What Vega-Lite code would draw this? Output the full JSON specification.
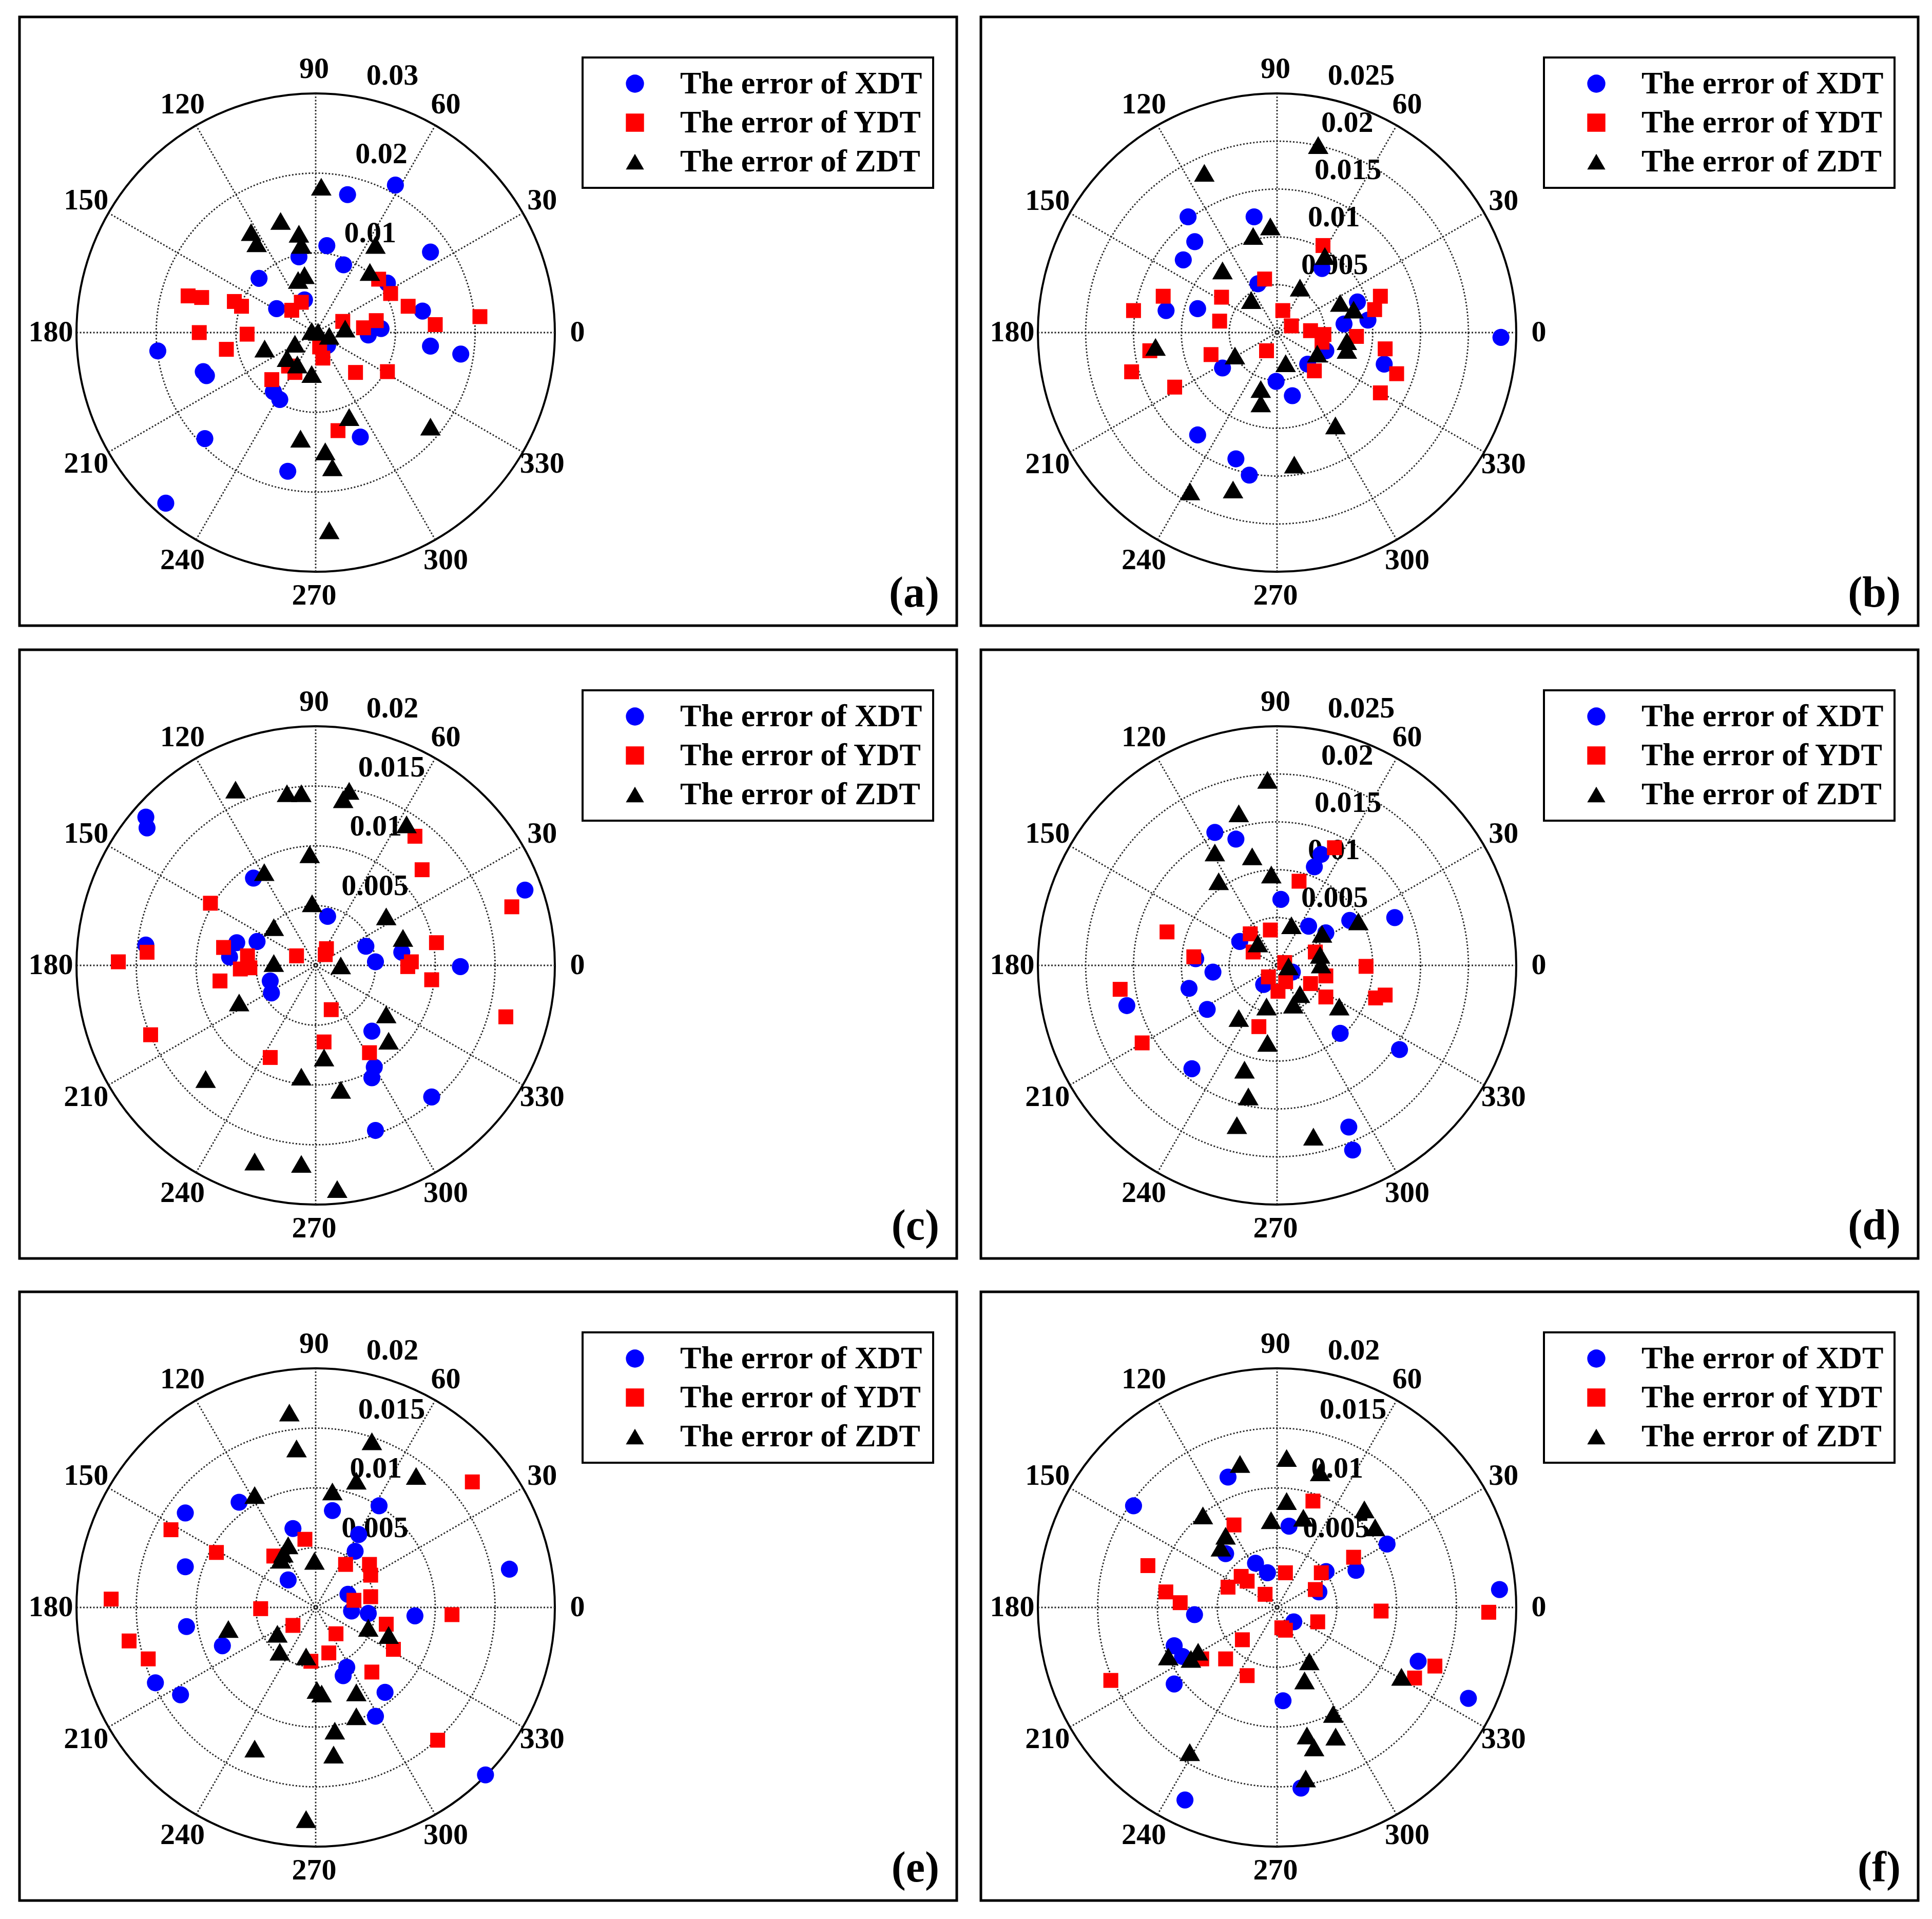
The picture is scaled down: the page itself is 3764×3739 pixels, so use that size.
{
"$schema":"https://vega.github.io/schema/vega-lite/v6.json",
"background":"white",
"padding":{"left":35,"top":30,"right":0,"bottom":0},
"datasets":{
"angles":[{"a":0,"t":"0"},{"a":30,"t":"30"},{"a":60,"t":"60"},{"a":90,"t":"90"},{"a":120,"t":"120"},{"a":150,"t":"150"},{"a":180,"t":"180"},{"a":210,"t":"210"},{"a":240,"t":"240"},{"a":270,"t":"270"},{"a":300,"t":"300"},{"a":330,"t":"330"}],
"pa":[
{"s":"XDT","x":0.0100,"y":0.0185},{"s":"XDT","x":0.0040,"y":0.0173},{"s":"XDT","x":0.0014,"y":0.0109},{"s":"XDT","x":0.0144,"y":0.0101},{"s":"XDT","x":0.0035,"y":0.0085},{"s":"XDT","x":-0.0021,"y":0.0095},{"s":"XDT","x":-0.0071,"y":0.0068},{"s":"XDT","x":0.0090,"y":0.0062},{"s":"XDT","x":-0.0014,"y":0.0041},{"s":"XDT","x":-0.0049,"y":0.0030},{"s":"XDT","x":0.0134,"y":0.0027},{"s":"XDT","x":0.0066,"y":-0.0003},{"s":"XDT","x":0.0082,"y":0.0005},{"s":"XDT","x":0.0144,"y":-0.0017},{"s":"XDT","x":0.0182,"y":-0.0027},{"s":"XDT","x":-0.0198,"y":-0.0023},{"s":"XDT","x":-0.0141,"y":-0.0049},{"s":"XDT","x":-0.0137,"y":-0.0054},{"s":"XDT","x":-0.0053,"y":-0.0074},{"s":"XDT","x":-0.0045,"y":-0.0084},{"s":"XDT","x":-0.0139,"y":-0.0133},{"s":"XDT","x":0.0056,"y":-0.0131},{"s":"XDT","x":-0.0035,"y":-0.0174},{"s":"XDT","x":-0.0188,"y":-0.0214},{"s":"XDT","x":0.0015,"y":-0.0016},
{"s":"YDT","x":-0.0160,"y":0.0046},{"s":"YDT","x":-0.0143,"y":0.0044},{"s":"YDT","x":-0.0102,"y":0.0039},{"s":"YDT","x":-0.0093,"y":0.0033},{"s":"YDT","x":-0.0030,"y":0.0028},{"s":"YDT","x":-0.0018,"y":0.0038},{"s":"YDT","x":0.0079,"y":0.0067},{"s":"YDT","x":0.0094,"y":0.0049},{"s":"YDT","x":0.0116,"y":0.0033},{"s":"YDT","x":0.0150,"y":0.0010},{"s":"YDT","x":0.0206,"y":0.0020},{"s":"YDT","x":0.0034,"y":0.0014},{"s":"YDT","x":0.0060,"y":0.0006},{"s":"YDT","x":0.0076,"y":0.0015},{"s":"YDT","x":-0.0146,"y":0.0000},{"s":"YDT","x":-0.0086,"y":-0.0002},{"s":"YDT","x":-0.0112,"y":-0.0021},{"s":"YDT","x":0.0005,"y":-0.0018},{"s":"YDT","x":0.0009,"y":-0.0032},{"s":"YDT","x":-0.0026,"y":-0.0050},{"s":"YDT","x":-0.0055,"y":-0.0059},{"s":"YDT","x":0.0050,"y":-0.0050},{"s":"YDT","x":0.0090,"y":-0.0049},{"s":"YDT","x":0.0028,"y":-0.0123},{"s":"YDT","x":-0.0034,"y":-0.0042},
{"s":"ZDT","x":0.0007,"y":0.0183},{"s":"ZDT","x":-0.0044,"y":0.0140},{"s":"ZDT","x":-0.0081,"y":0.0126},{"s":"ZDT","x":-0.0074,"y":0.0112},{"s":"ZDT","x":-0.0021,"y":0.0124},{"s":"ZDT","x":-0.0018,"y":0.0110},{"s":"ZDT","x":0.0075,"y":0.0110},{"s":"ZDT","x":0.0068,"y":0.0076},{"s":"ZDT","x":-0.0014,"y":0.0072},{"s":"ZDT","x":-0.0022,"y":0.0066},{"s":"ZDT","x":-0.0005,"y":0.0002},{"s":"ZDT","x":0.0003,"y":0.0001},{"s":"ZDT","x":0.0017,"y":-0.0004},{"s":"ZDT","x":0.0037,"y":0.0005},{"s":"ZDT","x":-0.0064,"y":-0.0020},{"s":"ZDT","x":-0.0026,"y":-0.0014},{"s":"ZDT","x":-0.0036,"y":-0.0032},{"s":"ZDT","x":-0.0023,"y":-0.0040},{"s":"ZDT","x":-0.0005,"y":-0.0052},{"s":"ZDT","x":0.0042,"y":-0.0106},{"s":"ZDT","x":-0.0019,"y":-0.0133},{"s":"ZDT","x":0.0012,"y":-0.0149},{"s":"ZDT","x":0.0021,"y":-0.0169},{"s":"ZDT","x":0.0144,"y":-0.0118},{"s":"ZDT","x":0.0017,"y":-0.0248}
],
"pb":[
{"s":"XDT","x":-0.0093,"y":0.0121},{"s":"XDT","x":-0.0086,"y":0.0095},{"s":"XDT","x":-0.0098,"y":0.0076},{"s":"XDT","x":-0.0024,"y":0.0121},{"s":"XDT","x":-0.0020,"y":0.0051},{"s":"XDT","x":0.0047,"y":0.0067},{"s":"XDT","x":-0.0116,"y":0.0023},{"s":"XDT","x":-0.0083,"y":0.0025},{"s":"XDT","x":0.0084,"y":0.0032},{"s":"XDT","x":0.0095,"y":0.0013},{"s":"XDT","x":0.0070,"y":0.0009},{"s":"XDT","x":0.0234,"y":-0.0005},{"s":"XDT","x":0.0051,"y":-0.0019},{"s":"XDT","x":0.0032,"y":-0.0033},{"s":"XDT","x":0.0112,"y":-0.0033},{"s":"XDT","x":-0.0057,"y":-0.0037},{"s":"XDT","x":-0.0001,"y":-0.0051},{"s":"XDT","x":0.0016,"y":-0.0066},{"s":"XDT","x":-0.0083,"y":-0.0107},{"s":"XDT","x":-0.0043,"y":-0.0132},{"s":"XDT","x":-0.0029,"y":-0.0149},
{"s":"YDT","x":0.0048,"y":0.0091},{"s":"YDT","x":-0.0013,"y":0.0056},{"s":"YDT","x":-0.0119,"y":0.0038},{"s":"YDT","x":-0.0150,"y":0.0023},{"s":"YDT","x":-0.0058,"y":0.0037},{"s":"YDT","x":-0.0060,"y":0.0012},{"s":"YDT","x":0.0006,"y":0.0023},{"s":"YDT","x":0.0015,"y":0.0007},{"s":"YDT","x":0.0035,"y":0.0002},{"s":"YDT","x":0.0049,"y":-0.0002},{"s":"YDT","x":0.0047,"y":-0.0010},{"s":"YDT","x":0.0108,"y":0.0038},{"s":"YDT","x":0.0102,"y":0.0024},{"s":"YDT","x":0.0083,"y":-0.0004},{"s":"YDT","x":0.0113,"y":-0.0017},{"s":"YDT","x":0.0125,"y":-0.0043},{"s":"YDT","x":0.0108,"y":-0.0063},{"s":"YDT","x":0.0039,"y":-0.0040},{"s":"YDT","x":-0.0011,"y":-0.0019},{"s":"YDT","x":-0.0069,"y":-0.0023},{"s":"YDT","x":-0.0133,"y":-0.0019},{"s":"YDT","x":-0.0152,"y":-0.0041},{"s":"YDT","x":-0.0107,"y":-0.0057},
{"s":"ZDT","x":0.0043,"y":0.0196},{"s":"ZDT","x":-0.0076,"y":0.0167},{"s":"ZDT","x":-0.0007,"y":0.0111},{"s":"ZDT","x":-0.0025,"y":0.0101},{"s":"ZDT","x":0.0050,"y":0.0080},{"s":"ZDT","x":-0.0057,"y":0.0065},{"s":"ZDT","x":0.0024,"y":0.0047},{"s":"ZDT","x":-0.0027,"y":0.0034},{"s":"ZDT","x":0.0066,"y":0.0031},{"s":"ZDT","x":0.0080,"y":0.0024},{"s":"ZDT","x":0.0073,"y":-0.0009},{"s":"ZDT","x":0.0073,"y":-0.0018},{"s":"ZDT","x":0.0042,"y":-0.0022},{"s":"ZDT","x":-0.0127,"y":-0.0015},{"s":"ZDT","x":-0.0044,"y":-0.0024},{"s":"ZDT","x":0.0009,"y":-0.0032},{"s":"ZDT","x":-0.0017,"y":-0.0059},{"s":"ZDT","x":-0.0017,"y":-0.0074},{"s":"ZDT","x":0.0061,"y":-0.0097},{"s":"ZDT","x":0.0018,"y":-0.0138},{"s":"ZDT","x":-0.0091,"y":-0.0166},{"s":"ZDT","x":-0.0046,"y":-0.0164}
],
"pc":[
{"s":"XDT","x":-0.0142,"y":0.0124},{"s":"XDT","x":-0.0141,"y":0.0115},{"s":"XDT","x":-0.0052,"y":0.0073},{"s":"XDT","x":0.0010,"y":0.0041},{"s":"XDT","x":-0.0142,"y":0.0017},{"s":"XDT","x":-0.0066,"y":0.0019},{"s":"XDT","x":-0.0049,"y":0.0020},{"s":"XDT","x":-0.0072,"y":0.0007},{"s":"XDT","x":0.0042,"y":0.0016},{"s":"XDT","x":0.0050,"y":0.0003},{"s":"XDT","x":0.0072,"y":0.0011},{"s":"XDT","x":0.0175,"y":0.0063},{"s":"XDT","x":0.0121,"y":-0.0001},{"s":"XDT","x":-0.0038,"y":-0.0013},{"s":"XDT","x":-0.0037,"y":-0.0023},{"s":"XDT","x":0.0047,"y":-0.0055},{"s":"XDT","x":0.0049,"y":-0.0085},{"s":"XDT","x":0.0047,"y":-0.0094},{"s":"XDT","x":0.0097,"y":-0.0110},{"s":"XDT","x":0.0050,"y":-0.0138},
{"s":"YDT","x":0.0083,"y":0.0108},{"s":"YDT","x":0.0089,"y":0.0080},{"s":"YDT","x":0.0164,"y":0.0049},{"s":"YDT","x":-0.0088,"y":0.0052},{"s":"YDT","x":-0.0077,"y":0.0015},{"s":"YDT","x":-0.0141,"y":0.0011},{"s":"YDT","x":-0.0165,"y":0.0003},{"s":"YDT","x":-0.0057,"y":0.0008},{"s":"YDT","x":-0.0063,"y":-0.0003},{"s":"YDT","x":-0.0055,"y":-0.0002},{"s":"YDT","x":-0.0080,"y":-0.0013},{"s":"YDT","x":-0.0016,"y":0.0008},{"s":"YDT","x":0.0009,"y":0.0014},{"s":"YDT","x":0.0008,"y":0.0009},{"s":"YDT","x":0.0101,"y":0.0019},{"s":"YDT","x":0.0080,"y":0.0003},{"s":"YDT","x":0.0077,"y":-0.0001},{"s":"YDT","x":0.0097,"y":-0.0012},{"s":"YDT","x":0.0159,"y":-0.0043},{"s":"YDT","x":0.0013,"y":-0.0037},{"s":"YDT","x":0.0007,"y":-0.0064},{"s":"YDT","x":0.0045,"y":-0.0073},{"s":"YDT","x":-0.0038,"y":-0.0077},{"s":"YDT","x":-0.0138,"y":-0.0058},
{"s":"ZDT","x":-0.0067,"y":0.0147},{"s":"ZDT","x":-0.0024,"y":0.0144},{"s":"ZDT","x":-0.0012,"y":0.0144},{"s":"ZDT","x":0.0028,"y":0.0146},{"s":"ZDT","x":0.0023,"y":0.0139},{"s":"ZDT","x":0.0076,"y":0.0118},{"s":"ZDT","x":-0.0005,"y":0.0093},{"s":"ZDT","x":-0.0043,"y":0.0078},{"s":"ZDT","x":-0.0003,"y":0.0052},{"s":"ZDT","x":-0.0035,"y":0.0032},{"s":"ZDT","x":0.0059,"y":0.0041},{"s":"ZDT","x":0.0073,"y":0.0023},{"s":"ZDT","x":-0.0035,"y":0.0002},{"s":"ZDT","x":0.0021,"y":0.0000},{"s":"ZDT","x":-0.0064,"y":-0.0031},{"s":"ZDT","x":0.0059,"y":-0.0041},{"s":"ZDT","x":0.0061,"y":-0.0063},{"s":"ZDT","x":0.0007,"y":-0.0077},{"s":"ZDT","x":-0.0012,"y":-0.0093},{"s":"ZDT","x":0.0021,"y":-0.0104},{"s":"ZDT","x":-0.0092,"y":-0.0095},{"s":"ZDT","x":-0.0051,"y":-0.0164},{"s":"ZDT","x":-0.0012,"y":-0.0166},{"s":"ZDT","x":0.0018,"y":-0.0187}
],
"pd":[
{"s":"XDT","x":-0.0065,"y":0.0139},{"s":"XDT","x":-0.0043,"y":0.0132},{"s":"XDT","x":0.0046,"y":0.0116},{"s":"XDT","x":0.0039,"y":0.0103},{"s":"XDT","x":0.0004,"y":0.0069},{"s":"XDT","x":0.0033,"y":0.0041},{"s":"XDT","x":0.0051,"y":0.0034},{"s":"XDT","x":0.0076,"y":0.0047},{"s":"XDT","x":0.0123,"y":0.0050},{"s":"XDT","x":-0.0039,"y":0.0025},{"s":"XDT","x":-0.0085,"y":0.0007},{"s":"XDT","x":-0.0067,"y":-0.0007},{"s":"XDT","x":-0.0092,"y":-0.0024},{"s":"XDT","x":-0.0073,"y":-0.0046},{"s":"XDT","x":-0.0157,"y":-0.0042},{"s":"XDT","x":-0.0014,"y":-0.0020},{"s":"XDT","x":0.0016,"y":-0.0007},{"s":"XDT","x":0.0066,"y":-0.0071},{"s":"XDT","x":0.0128,"y":-0.0088},{"s":"XDT","x":-0.0089,"y":-0.0108},{"s":"XDT","x":0.0075,"y":-0.0169},{"s":"XDT","x":0.0079,"y":-0.0193},
{"s":"YDT","x":0.0060,"y":0.0123},{"s":"YDT","x":0.0023,"y":0.0088},{"s":"YDT","x":-0.0115,"y":0.0035},{"s":"YDT","x":-0.0028,"y":0.0033},{"s":"YDT","x":-0.0007,"y":0.0037},{"s":"YDT","x":-0.0025,"y":0.0014},{"s":"YDT","x":0.0040,"y":0.0014},{"s":"YDT","x":-0.0087,"y":0.0009},{"s":"YDT","x":0.0008,"y":0.0003},{"s":"YDT","x":0.0093,"y":-0.0001},{"s":"YDT","x":-0.0009,"y":-0.0012},{"s":"YDT","x":0.0009,"y":-0.0017},{"s":"YDT","x":0.0001,"y":-0.0027},{"s":"YDT","x":0.0035,"y":-0.0019},{"s":"YDT","x":0.0051,"y":-0.0011},{"s":"YDT","x":0.0051,"y":-0.0033},{"s":"YDT","x":0.0103,"y":-0.0034},{"s":"YDT","x":0.0113,"y":-0.0031},{"s":"YDT","x":-0.0164,"y":-0.0025},{"s":"YDT","x":-0.0019,"y":-0.0064},{"s":"YDT","x":-0.0141,"y":-0.0081},
{"s":"ZDT","x":-0.0010,"y":0.0194},{"s":"ZDT","x":-0.0040,"y":0.0159},{"s":"ZDT","x":-0.0065,"y":0.0118},{"s":"ZDT","x":-0.0026,"y":0.0114},{"s":"ZDT","x":-0.0061,"y":0.0088},{"s":"ZDT","x":-0.0006,"y":0.0095},{"s":"ZDT","x":0.0015,"y":0.0042},{"s":"ZDT","x":0.0047,"y":0.0033},{"s":"ZDT","x":0.0085,"y":0.0046},{"s":"ZDT","x":-0.0020,"y":0.0023},{"s":"ZDT","x":0.0045,"y":0.0011},{"s":"ZDT","x":0.0046,"y":0.0001},{"s":"ZDT","x":0.0012,"y":-0.0001},{"s":"ZDT","x":0.0024,"y":-0.0030},{"s":"ZDT","x":0.0017,"y":-0.0041},{"s":"ZDT","x":-0.0011,"y":-0.0043},{"s":"ZDT","x":0.0065,"y":-0.0043},{"s":"ZDT","x":-0.0040,"y":-0.0055},{"s":"ZDT","x":-0.0010,"y":-0.0081},{"s":"ZDT","x":-0.0034,"y":-0.0109},{"s":"ZDT","x":-0.0030,"y":-0.0137},{"s":"ZDT","x":-0.0042,"y":-0.0167},{"s":"ZDT","x":0.0038,"y":-0.0179}
],
"pe":[
{"s":"XDT","x":-0.0064,"y":0.0088},{"s":"XDT","x":-0.0109,"y":0.0079},{"s":"XDT","x":0.0014,"y":0.0081},{"s":"XDT","x":0.0053,"y":0.0085},{"s":"XDT","x":-0.0019,"y":0.0066},{"s":"XDT","x":0.0036,"y":0.0061},{"s":"XDT","x":0.0033,"y":0.0047},{"s":"XDT","x":-0.0109,"y":0.0034},{"s":"XDT","x":-0.0023,"y":0.0023},{"s":"XDT","x":0.0162,"y":0.0032},{"s":"XDT","x":0.0027,"y":0.0011},{"s":"XDT","x":0.0030,"y":-0.0003},{"s":"XDT","x":0.0044,"y":-0.0005},{"s":"XDT","x":0.0083,"y":-0.0007},{"s":"XDT","x":-0.0108,"y":-0.0016},{"s":"XDT","x":-0.0078,"y":-0.0032},{"s":"XDT","x":0.0026,"y":-0.0050},{"s":"XDT","x":0.0023,"y":-0.0057},{"s":"XDT","x":-0.0134,"y":-0.0063},{"s":"XDT","x":-0.0113,"y":-0.0073},{"s":"XDT","x":0.0058,"y":-0.0071},{"s":"XDT","x":0.0050,"y":-0.0091},{"s":"XDT","x":0.0142,"y":-0.0140},
{"s":"YDT","x":0.0131,"y":0.0105},{"s":"YDT","x":-0.0121,"y":0.0065},{"s":"YDT","x":-0.0083,"y":0.0046},{"s":"YDT","x":-0.0009,"y":0.0057},{"s":"YDT","x":-0.0035,"y":0.0043},{"s":"YDT","x":0.0025,"y":0.0036},{"s":"YDT","x":0.0045,"y":0.0036},{"s":"YDT","x":0.0046,"y":0.0027},{"s":"YDT","x":0.0046,"y":0.0009},{"s":"YDT","x":0.0032,"y":0.0006},{"s":"YDT","x":-0.0171,"y":0.0007},{"s":"YDT","x":-0.0046,"y":-0.0001},{"s":"YDT","x":0.0114,"y":-0.0006},{"s":"YDT","x":-0.0019,"y":-0.0015},{"s":"YDT","x":0.0017,"y":-0.0022},{"s":"YDT","x":0.0059,"y":-0.0014},{"s":"YDT","x":0.0065,"y":-0.0035},{"s":"YDT","x":-0.0156,"y":-0.0028},{"s":"YDT","x":-0.0140,"y":-0.0043},{"s":"YDT","x":0.0011,"y":-0.0038},{"s":"YDT","x":-0.0004,"y":-0.0045},{"s":"YDT","x":0.0047,"y":-0.0054},{"s":"YDT","x":0.0102,"y":-0.0111},
{"s":"ZDT","x":-0.0022,"y":0.0163},{"s":"ZDT","x":-0.0016,"y":0.0133},{"s":"ZDT","x":0.0047,"y":0.0139},{"s":"ZDT","x":0.0084,"y":0.0110},{"s":"ZDT","x":0.0034,"y":0.0106},{"s":"ZDT","x":0.0014,"y":0.0097},{"s":"ZDT","x":-0.0051,"y":0.0094},{"s":"ZDT","x":-0.0023,"y":0.0052},{"s":"ZDT","x":-0.0027,"y":0.0045},{"s":"ZDT","x":-0.0029,"y":0.0040},{"s":"ZDT","x":-0.0001,"y":0.0039},{"s":"ZDT","x":-0.0073,"y":-0.0018},{"s":"ZDT","x":-0.0032,"y":-0.0022},{"s":"ZDT","x":0.0044,"y":-0.0017},{"s":"ZDT","x":0.0061,"y":-0.0023},{"s":"ZDT","x":-0.0030,"y":-0.0037},{"s":"ZDT","x":-0.0008,"y":-0.0041},{"s":"ZDT","x":0.0001,"y":-0.0069},{"s":"ZDT","x":0.0005,"y":-0.0072},{"s":"ZDT","x":0.0034,"y":-0.0071},{"s":"ZDT","x":0.0034,"y":-0.0091},{"s":"ZDT","x":0.0016,"y":-0.0103},{"s":"ZDT","x":-0.0051,"y":-0.0118},{"s":"ZDT","x":0.0015,"y":-0.0123},{"s":"ZDT","x":-0.0008,"y":-0.0177}
],
"pf":[
{"s":"XDT","x":-0.0120,"y":0.0085},{"s":"XDT","x":-0.0041,"y":0.0109},{"s":"XDT","x":0.0010,"y":0.0068},{"s":"XDT","x":-0.0043,"y":0.0045},{"s":"XDT","x":-0.0018,"y":0.0037},{"s":"XDT","x":-0.0008,"y":0.0029},{"s":"XDT","x":0.0041,"y":0.0030},{"s":"XDT","x":0.0035,"y":0.0013},{"s":"XDT","x":0.0066,"y":0.0031},{"s":"XDT","x":0.0092,"y":0.0053},{"s":"XDT","x":0.0186,"y":0.0015},{"s":"XDT","x":-0.0069,"y":-0.0006},{"s":"XDT","x":0.0014,"y":-0.0012},{"s":"XDT","x":-0.0086,"y":-0.0032},{"s":"XDT","x":-0.0079,"y":-0.0041},{"s":"XDT","x":-0.0086,"y":-0.0064},{"s":"XDT","x":0.0005,"y":-0.0078},{"s":"XDT","x":0.0118,"y":-0.0045},{"s":"XDT","x":0.0160,"y":-0.0076},{"s":"XDT","x":0.0020,"y":-0.0151},{"s":"XDT","x":-0.0077,"y":-0.0161},
{"s":"YDT","x":0.0030,"y":0.0089},{"s":"YDT","x":-0.0036,"y":0.0069},{"s":"YDT","x":-0.0108,"y":0.0035},{"s":"YDT","x":-0.0093,"y":0.0013},{"s":"YDT","x":-0.0081,"y":0.0004},{"s":"YDT","x":-0.0030,"y":0.0026},{"s":"YDT","x":-0.0025,"y":0.0022},{"s":"YDT","x":-0.0041,"y":0.0017},{"s":"YDT","x":-0.0010,"y":0.0011},{"s":"YDT","x":0.0007,"y":0.0029},{"s":"YDT","x":0.0037,"y":0.0029},{"s":"YDT","x":0.0032,"y":0.0015},{"s":"YDT","x":0.0064,"y":0.0042},{"s":"YDT","x":0.0087,"y":-0.0003},{"s":"YDT","x":0.0177,"y":-0.0004},{"s":"YDT","x":0.0034,"y":-0.0012},{"s":"YDT","x":0.0004,"y":-0.0017},{"s":"YDT","x":0.0007,"y":-0.0019},{"s":"YDT","x":-0.0029,"y":-0.0027},{"s":"YDT","x":-0.0043,"y":-0.0043},{"s":"YDT","x":-0.0063,"y":-0.0043},{"s":"YDT","x":-0.0025,"y":-0.0057},{"s":"YDT","x":-0.0139,"y":-0.0061},{"s":"YDT","x":0.0132,"y":-0.0049},{"s":"YDT","x":0.0115,"y":-0.0059},
{"s":"ZDT","x":-0.0031,"y":0.0120},{"s":"ZDT","x":0.0008,"y":0.0125},{"s":"ZDT","x":0.0036,"y":0.0113},{"s":"ZDT","x":0.0008,"y":0.0089},{"s":"ZDT","x":-0.0062,"y":0.0077},{"s":"ZDT","x":-0.0005,"y":0.0073},{"s":"ZDT","x":0.0022,"y":0.0075},{"s":"ZDT","x":0.0073,"y":0.0082},{"s":"ZDT","x":0.0082,"y":0.0067},{"s":"ZDT","x":-0.0043,"y":0.0060},{"s":"ZDT","x":-0.0047,"y":0.0050},{"s":"ZDT","x":-0.0091,"y":-0.0041},{"s":"ZDT","x":-0.0066,"y":-0.0037},{"s":"ZDT","x":-0.0072,"y":-0.0043},{"s":"ZDT","x":0.0027,"y":-0.0045},{"s":"ZDT","x":0.0023,"y":-0.0061},{"s":"ZDT","x":0.0104,"y":-0.0058},{"s":"ZDT","x":0.0047,"y":-0.0089},{"s":"ZDT","x":0.0025,"y":-0.0107},{"s":"ZDT","x":0.0049,"y":-0.0108},{"s":"ZDT","x":0.0031,"y":-0.0117},{"s":"ZDT","x":-0.0073,"y":-0.0121},{"s":"ZDT","x":0.0024,"y":-0.0143}
]
},
"vconcat":[
{"vconcat":[
{"hconcat":[
{"width":1826,"height":1186,"resolve":{"scale":{"size":"independent"}},"layer":[
{"data":{"values":[{"r":0.01},{"r":0.02}]},"mark":{"type":"point","shape":"circle","filled":false,"stroke":"#262626","strokeWidth":2.8,"strokeDash":[3,3.5],"opacity":1},"encoding":{"x":{"datum":0,"type":"quantitative","scale":{"domain":[-0.037146,0.080408],"nice":false,"zero":false},"axis":null},"y":{"datum":0,"type":"quantitative","scale":{"domain":[-0.03676,0.039592],"nice":false,"zero":false},"axis":null},"size":{"field":"r","type":"quantitative","scale":{"type":"pow","exponent":2,"domain":[0,0.03],"range":[0,868624],"nice":false,"zero":true},"legend":null}}},
{"data":{"values":[{"r":0.03}]},"mark":{"type":"point","shape":"circle","filled":false,"stroke":"black","strokeWidth":4,"opacity":1},"encoding":{"x":{"datum":0,"type":"quantitative","scale":{"domain":[-0.037146,0.080408],"nice":false,"zero":false},"axis":null},"y":{"datum":0,"type":"quantitative","scale":{"domain":[-0.03676,0.039592],"nice":false,"zero":false},"axis":null},"size":{"field":"r","type":"quantitative","scale":{"type":"pow","exponent":2,"domain":[0,0.03],"range":[0,868624],"nice":false,"zero":true},"legend":null}}},
{"data":{"values":[{"x":-0.03,"y":0,"x2":0.03,"y2":0},{"x":-0.025981,"y":-0.015,"x2":0.025981,"y2":0.015},{"x":-0.015,"y":-0.025981,"x2":0.015,"y2":0.025981},{"x":0,"y":-0.03,"x2":0,"y2":0.03},{"x":0.015,"y":-0.025981,"x2":-0.015,"y2":0.025981},{"x":0.025981,"y":-0.015,"x2":-0.025981,"y2":0.015}]},"mark":{"type":"rule","stroke":"#262626","strokeWidth":2.8,"strokeDash":[3,3.5]},"encoding":{"x":{"field":"x","type":"quantitative","scale":{"domain":[-0.037146,0.080408],"nice":false,"zero":false},"axis":null},"y":{"field":"y","type":"quantitative","scale":{"domain":[-0.03676,0.039592],"nice":false,"zero":false},"axis":null},"x2":{"field":"x2"},"y2":{"field":"y2"}}},
{"data":{"name":"angles"},"mark":{"type":"text","radius":513,"dx":-3,"dy":0,"align":"center","baseline":"middle","font":"Liberation Serif","fontWeight":"bold","fontSize":58,"color":"black"},"encoding":{"x":{"datum":0,"type":"quantitative","scale":{"domain":[-0.037146,0.080408],"nice":false,"zero":false},"axis":null},"y":{"datum":0,"type":"quantitative","scale":{"domain":[-0.03676,0.039592],"nice":false,"zero":false},"axis":null},"theta":{"field":"a","type":"quantitative","stack":null,"scale":{"type":"linear","domain":[0,360],"range":[1.5707963,-4.712389],"nice":false,"zero":false}},"text":{"field":"t"}}},
{"data":{"values":[{"r":0.01,"t":"0.01"},{"r":0.02,"t":"0.02"},{"r":0.03,"t":"0.03"}]},"mark":{"type":"text","dx":34,"dy":-22,"align":"left","baseline":"alphabetic","font":"Liberation Serif","fontWeight":"bold","fontSize":58,"color":"black"},"encoding":{"x":{"datum":0,"type":"quantitative","scale":{"domain":[-0.037146,0.080408],"nice":false,"zero":false},"axis":null},"y":{"datum":0,"type":"quantitative","scale":{"domain":[-0.03676,0.039592],"nice":false,"zero":false},"axis":null},"theta":{"datum":82,"type":"quantitative","scale":{"type":"linear","domain":[0,360],"range":[1.5707963,-4.712389],"nice":false,"zero":false}},"radius":{"field":"r","type":"quantitative","scale":{"type":"linear","domain":[0,0.03],"range":[0,466],"nice":false,"zero":true}},"text":{"field":"t"}}},
{"data":{"name":"pa"},"encoding":{"x":{"field":"x","type":"quantitative","scale":{"domain":[-0.037146,0.080408],"nice":false,"zero":false},"axis":null},"y":{"field":"y","type":"quantitative","scale":{"domain":[-0.03676,0.039592],"nice":false,"zero":false},"axis":null},"color":{"field":"s","type":"nominal","scale":{"domain":["XDT","YDT","ZDT"],"range":["#0000ff","#ff0000","#000000"]},"legend":{"title":null,"labelExpr":"'The error of ' + datum.label"}},"shape":{"field":"s","type":"nominal","scale":{"domain":["XDT","YDT","ZDT"],"range":["circle","square","triangle-up"]},"legend":{"title":null,"labelExpr":"'The error of ' + datum.label"}}},"layer":[
{"transform":[{"filter":"datum.s === 'XDT'"}],"mark":{"type":"point","filled":true,"opacity":1,"strokeWidth":0,"size":1100}},
{"transform":[{"filter":"datum.s === 'YDT'"}],"mark":{"type":"point","filled":true,"opacity":1,"strokeWidth":0,"size":841}},
{"transform":[{"filter":"datum.s === 'ZDT'"}],"mark":{"type":"point","filled":true,"opacity":1,"strokeWidth":0,"size":1600}}]},
{"data":{"values":[{"t":"(a)"}]},"mark":{"type":"text","align":"right","baseline":"alphabetic","dx":-34,"dy":-37,"font":"Liberation Serif","fontWeight":"bold","fontSize":84,"color":"black"},"encoding":{"x":{"value":"width"},"y":{"value":"height"},"text":{"field":"t"}}}
]},
{"width":1826,"height":1186,"resolve":{"scale":{"size":"independent"}},"layer":[
{"data":{"values":[{"r":0.005},{"r":0.01},{"r":0.015},{"r":0.02}]},"mark":{"type":"point","shape":"circle","filled":false,"stroke":"#262626","strokeWidth":2.8,"strokeDash":[3,3.5],"opacity":1},"encoding":{"x":{"datum":0,"type":"quantitative","scale":{"domain":[-0.030955,0.067007],"nice":false,"zero":false},"axis":null},"y":{"datum":0,"type":"quantitative","scale":{"domain":[-0.030633,0.032994],"nice":false,"zero":false},"axis":null},"size":{"field":"r","type":"quantitative","scale":{"type":"pow","exponent":2,"domain":[0,0.025],"range":[0,868624],"nice":false,"zero":true},"legend":null}}},
{"data":{"values":[{"r":0.025}]},"mark":{"type":"point","shape":"circle","filled":false,"stroke":"black","strokeWidth":4,"opacity":1},"encoding":{"x":{"datum":0,"type":"quantitative","scale":{"domain":[-0.030955,0.067007],"nice":false,"zero":false},"axis":null},"y":{"datum":0,"type":"quantitative","scale":{"domain":[-0.030633,0.032994],"nice":false,"zero":false},"axis":null},"size":{"field":"r","type":"quantitative","scale":{"type":"pow","exponent":2,"domain":[0,0.025],"range":[0,868624],"nice":false,"zero":true},"legend":null}}},
{"data":{"values":[{"x":-0.025,"y":0,"x2":0.025,"y2":0},{"x":-0.021651,"y":-0.0125,"x2":0.021651,"y2":0.0125},{"x":-0.0125,"y":-0.021651,"x2":0.0125,"y2":0.021651},{"x":0,"y":-0.025,"x2":0,"y2":0.025},{"x":0.0125,"y":-0.021651,"x2":-0.0125,"y2":0.021651},{"x":0.021651,"y":-0.0125,"x2":-0.021651,"y2":0.0125}]},"mark":{"type":"rule","stroke":"#262626","strokeWidth":2.8,"strokeDash":[3,3.5]},"encoding":{"x":{"field":"x","type":"quantitative","scale":{"domain":[-0.030955,0.067007],"nice":false,"zero":false},"axis":null},"y":{"field":"y","type":"quantitative","scale":{"domain":[-0.030633,0.032994],"nice":false,"zero":false},"axis":null},"x2":{"field":"x2"},"y2":{"field":"y2"}}},
{"data":{"name":"angles"},"mark":{"type":"text","radius":513,"dx":-3,"dy":0,"align":"center","baseline":"middle","font":"Liberation Serif","fontWeight":"bold","fontSize":58,"color":"black"},"encoding":{"x":{"datum":0,"type":"quantitative","scale":{"domain":[-0.030955,0.067007],"nice":false,"zero":false},"axis":null},"y":{"datum":0,"type":"quantitative","scale":{"domain":[-0.030633,0.032994],"nice":false,"zero":false},"axis":null},"theta":{"field":"a","type":"quantitative","stack":null,"scale":{"type":"linear","domain":[0,360],"range":[1.5707963,-4.712389],"nice":false,"zero":false}},"text":{"field":"t"}}},
{"data":{"values":[{"r":0.005,"t":"0.005"},{"r":0.01,"t":"0.01"},{"r":0.015,"t":"0.015"},{"r":0.02,"t":"0.02"},{"r":0.025,"t":"0.025"}]},"mark":{"type":"text","dx":34,"dy":-22,"align":"left","baseline":"alphabetic","font":"Liberation Serif","fontWeight":"bold","fontSize":58,"color":"black"},"encoding":{"x":{"datum":0,"type":"quantitative","scale":{"domain":[-0.030955,0.067007],"nice":false,"zero":false},"axis":null},"y":{"datum":0,"type":"quantitative","scale":{"domain":[-0.030633,0.032994],"nice":false,"zero":false},"axis":null},"theta":{"datum":82,"type":"quantitative","scale":{"type":"linear","domain":[0,360],"range":[1.5707963,-4.712389],"nice":false,"zero":false}},"radius":{"field":"r","type":"quantitative","scale":{"type":"linear","domain":[0,0.025],"range":[0,466],"nice":false,"zero":true}},"text":{"field":"t"}}},
{"data":{"name":"pb"},"encoding":{"x":{"field":"x","type":"quantitative","scale":{"domain":[-0.030955,0.067007],"nice":false,"zero":false},"axis":null},"y":{"field":"y","type":"quantitative","scale":{"domain":[-0.030633,0.032994],"nice":false,"zero":false},"axis":null},"color":{"field":"s","type":"nominal","scale":{"domain":["XDT","YDT","ZDT"],"range":["#0000ff","#ff0000","#000000"]},"legend":{"title":null,"labelExpr":"'The error of ' + datum.label"}},"shape":{"field":"s","type":"nominal","scale":{"domain":["XDT","YDT","ZDT"],"range":["circle","square","triangle-up"]},"legend":{"title":null,"labelExpr":"'The error of ' + datum.label"}}},"layer":[
{"transform":[{"filter":"datum.s === 'XDT'"}],"mark":{"type":"point","filled":true,"opacity":1,"strokeWidth":0,"size":1100}},
{"transform":[{"filter":"datum.s === 'YDT'"}],"mark":{"type":"point","filled":true,"opacity":1,"strokeWidth":0,"size":841}},
{"transform":[{"filter":"datum.s === 'ZDT'"}],"mark":{"type":"point","filled":true,"opacity":1,"strokeWidth":0,"size":1600}}]},
{"data":{"values":[{"t":"(b)"}]},"mark":{"type":"text","align":"right","baseline":"alphabetic","dx":-34,"dy":-37,"font":"Liberation Serif","fontWeight":"bold","fontSize":84,"color":"black"},"encoding":{"x":{"value":"width"},"y":{"value":"height"},"text":{"field":"t"}}}
]}
],"spacing":41,"resolve":{"scale":{"x":"independent","y":"independent","color":"independent","shape":"independent","size":"independent","theta":"independent","radius":"independent"},"legend":{"color":"independent","shape":"independent","size":"independent"}}},
{"hconcat":[
{"width":1826,"height":1186,"resolve":{"scale":{"size":"independent"}},"layer":[
{"data":{"values":[{"r":0.005},{"r":0.01},{"r":0.015}]},"mark":{"type":"point","shape":"circle","filled":false,"stroke":"#262626","strokeWidth":2.8,"strokeDash":[3,3.5],"opacity":1},"encoding":{"x":{"datum":0,"type":"quantitative","scale":{"domain":[-0.024764,0.053605],"nice":false,"zero":false},"axis":null},"y":{"datum":0,"type":"quantitative","scale":{"domain":[-0.024506,0.026395],"nice":false,"zero":false},"axis":null},"size":{"field":"r","type":"quantitative","scale":{"type":"pow","exponent":2,"domain":[0,0.02],"range":[0,868624],"nice":false,"zero":true},"legend":null}}},
{"data":{"values":[{"r":0.02}]},"mark":{"type":"point","shape":"circle","filled":false,"stroke":"black","strokeWidth":4,"opacity":1},"encoding":{"x":{"datum":0,"type":"quantitative","scale":{"domain":[-0.024764,0.053605],"nice":false,"zero":false},"axis":null},"y":{"datum":0,"type":"quantitative","scale":{"domain":[-0.024506,0.026395],"nice":false,"zero":false},"axis":null},"size":{"field":"r","type":"quantitative","scale":{"type":"pow","exponent":2,"domain":[0,0.02],"range":[0,868624],"nice":false,"zero":true},"legend":null}}},
{"data":{"values":[{"x":-0.02,"y":0,"x2":0.02,"y2":0},{"x":-0.017321,"y":-0.01,"x2":0.017321,"y2":0.01},{"x":-0.01,"y":-0.017321,"x2":0.01,"y2":0.017321},{"x":0,"y":-0.02,"x2":0,"y2":0.02},{"x":0.01,"y":-0.017321,"x2":-0.01,"y2":0.017321},{"x":0.017321,"y":-0.01,"x2":-0.017321,"y2":0.01}]},"mark":{"type":"rule","stroke":"#262626","strokeWidth":2.8,"strokeDash":[3,3.5]},"encoding":{"x":{"field":"x","type":"quantitative","scale":{"domain":[-0.024764,0.053605],"nice":false,"zero":false},"axis":null},"y":{"field":"y","type":"quantitative","scale":{"domain":[-0.024506,0.026395],"nice":false,"zero":false},"axis":null},"x2":{"field":"x2"},"y2":{"field":"y2"}}},
{"data":{"name":"angles"},"mark":{"type":"text","radius":513,"dx":-3,"dy":0,"align":"center","baseline":"middle","font":"Liberation Serif","fontWeight":"bold","fontSize":58,"color":"black"},"encoding":{"x":{"datum":0,"type":"quantitative","scale":{"domain":[-0.024764,0.053605],"nice":false,"zero":false},"axis":null},"y":{"datum":0,"type":"quantitative","scale":{"domain":[-0.024506,0.026395],"nice":false,"zero":false},"axis":null},"theta":{"field":"a","type":"quantitative","stack":null,"scale":{"type":"linear","domain":[0,360],"range":[1.5707963,-4.712389],"nice":false,"zero":false}},"text":{"field":"t"}}},
{"data":{"values":[{"r":0.005,"t":"0.005"},{"r":0.01,"t":"0.01"},{"r":0.015,"t":"0.015"},{"r":0.02,"t":"0.02"}]},"mark":{"type":"text","dx":34,"dy":-22,"align":"left","baseline":"alphabetic","font":"Liberation Serif","fontWeight":"bold","fontSize":58,"color":"black"},"encoding":{"x":{"datum":0,"type":"quantitative","scale":{"domain":[-0.024764,0.053605],"nice":false,"zero":false},"axis":null},"y":{"datum":0,"type":"quantitative","scale":{"domain":[-0.024506,0.026395],"nice":false,"zero":false},"axis":null},"theta":{"datum":82,"type":"quantitative","scale":{"type":"linear","domain":[0,360],"range":[1.5707963,-4.712389],"nice":false,"zero":false}},"radius":{"field":"r","type":"quantitative","scale":{"type":"linear","domain":[0,0.02],"range":[0,466],"nice":false,"zero":true}},"text":{"field":"t"}}},
{"data":{"name":"pc"},"encoding":{"x":{"field":"x","type":"quantitative","scale":{"domain":[-0.024764,0.053605],"nice":false,"zero":false},"axis":null},"y":{"field":"y","type":"quantitative","scale":{"domain":[-0.024506,0.026395],"nice":false,"zero":false},"axis":null},"color":{"field":"s","type":"nominal","scale":{"domain":["XDT","YDT","ZDT"],"range":["#0000ff","#ff0000","#000000"]},"legend":{"title":null,"labelExpr":"'The error of ' + datum.label"}},"shape":{"field":"s","type":"nominal","scale":{"domain":["XDT","YDT","ZDT"],"range":["circle","square","triangle-up"]},"legend":{"title":null,"labelExpr":"'The error of ' + datum.label"}}},"layer":[
{"transform":[{"filter":"datum.s === 'XDT'"}],"mark":{"type":"point","filled":true,"opacity":1,"strokeWidth":0,"size":1100}},
{"transform":[{"filter":"datum.s === 'YDT'"}],"mark":{"type":"point","filled":true,"opacity":1,"strokeWidth":0,"size":841}},
{"transform":[{"filter":"datum.s === 'ZDT'"}],"mark":{"type":"point","filled":true,"opacity":1,"strokeWidth":0,"size":1600}}]},
{"data":{"values":[{"t":"(c)"}]},"mark":{"type":"text","align":"right","baseline":"alphabetic","dx":-34,"dy":-37,"font":"Liberation Serif","fontWeight":"bold","fontSize":84,"color":"black"},"encoding":{"x":{"value":"width"},"y":{"value":"height"},"text":{"field":"t"}}}
]},
{"width":1826,"height":1186,"resolve":{"scale":{"size":"independent"}},"layer":[
{"data":{"values":[{"r":0.005},{"r":0.01},{"r":0.015},{"r":0.02}]},"mark":{"type":"point","shape":"circle","filled":false,"stroke":"#262626","strokeWidth":2.8,"strokeDash":[3,3.5],"opacity":1},"encoding":{"x":{"datum":0,"type":"quantitative","scale":{"domain":[-0.030955,0.067007],"nice":false,"zero":false},"axis":null},"y":{"datum":0,"type":"quantitative","scale":{"domain":[-0.030633,0.032994],"nice":false,"zero":false},"axis":null},"size":{"field":"r","type":"quantitative","scale":{"type":"pow","exponent":2,"domain":[0,0.025],"range":[0,868624],"nice":false,"zero":true},"legend":null}}},
{"data":{"values":[{"r":0.025}]},"mark":{"type":"point","shape":"circle","filled":false,"stroke":"black","strokeWidth":4,"opacity":1},"encoding":{"x":{"datum":0,"type":"quantitative","scale":{"domain":[-0.030955,0.067007],"nice":false,"zero":false},"axis":null},"y":{"datum":0,"type":"quantitative","scale":{"domain":[-0.030633,0.032994],"nice":false,"zero":false},"axis":null},"size":{"field":"r","type":"quantitative","scale":{"type":"pow","exponent":2,"domain":[0,0.025],"range":[0,868624],"nice":false,"zero":true},"legend":null}}},
{"data":{"values":[{"x":-0.025,"y":0,"x2":0.025,"y2":0},{"x":-0.021651,"y":-0.0125,"x2":0.021651,"y2":0.0125},{"x":-0.0125,"y":-0.021651,"x2":0.0125,"y2":0.021651},{"x":0,"y":-0.025,"x2":0,"y2":0.025},{"x":0.0125,"y":-0.021651,"x2":-0.0125,"y2":0.021651},{"x":0.021651,"y":-0.0125,"x2":-0.021651,"y2":0.0125}]},"mark":{"type":"rule","stroke":"#262626","strokeWidth":2.8,"strokeDash":[3,3.5]},"encoding":{"x":{"field":"x","type":"quantitative","scale":{"domain":[-0.030955,0.067007],"nice":false,"zero":false},"axis":null},"y":{"field":"y","type":"quantitative","scale":{"domain":[-0.030633,0.032994],"nice":false,"zero":false},"axis":null},"x2":{"field":"x2"},"y2":{"field":"y2"}}},
{"data":{"name":"angles"},"mark":{"type":"text","radius":513,"dx":-3,"dy":0,"align":"center","baseline":"middle","font":"Liberation Serif","fontWeight":"bold","fontSize":58,"color":"black"},"encoding":{"x":{"datum":0,"type":"quantitative","scale":{"domain":[-0.030955,0.067007],"nice":false,"zero":false},"axis":null},"y":{"datum":0,"type":"quantitative","scale":{"domain":[-0.030633,0.032994],"nice":false,"zero":false},"axis":null},"theta":{"field":"a","type":"quantitative","stack":null,"scale":{"type":"linear","domain":[0,360],"range":[1.5707963,-4.712389],"nice":false,"zero":false}},"text":{"field":"t"}}},
{"data":{"values":[{"r":0.005,"t":"0.005"},{"r":0.01,"t":"0.01"},{"r":0.015,"t":"0.015"},{"r":0.02,"t":"0.02"},{"r":0.025,"t":"0.025"}]},"mark":{"type":"text","dx":34,"dy":-22,"align":"left","baseline":"alphabetic","font":"Liberation Serif","fontWeight":"bold","fontSize":58,"color":"black"},"encoding":{"x":{"datum":0,"type":"quantitative","scale":{"domain":[-0.030955,0.067007],"nice":false,"zero":false},"axis":null},"y":{"datum":0,"type":"quantitative","scale":{"domain":[-0.030633,0.032994],"nice":false,"zero":false},"axis":null},"theta":{"datum":82,"type":"quantitative","scale":{"type":"linear","domain":[0,360],"range":[1.5707963,-4.712389],"nice":false,"zero":false}},"radius":{"field":"r","type":"quantitative","scale":{"type":"linear","domain":[0,0.025],"range":[0,466],"nice":false,"zero":true}},"text":{"field":"t"}}},
{"data":{"name":"pd"},"encoding":{"x":{"field":"x","type":"quantitative","scale":{"domain":[-0.030955,0.067007],"nice":false,"zero":false},"axis":null},"y":{"field":"y","type":"quantitative","scale":{"domain":[-0.030633,0.032994],"nice":false,"zero":false},"axis":null},"color":{"field":"s","type":"nominal","scale":{"domain":["XDT","YDT","ZDT"],"range":["#0000ff","#ff0000","#000000"]},"legend":{"title":null,"labelExpr":"'The error of ' + datum.label"}},"shape":{"field":"s","type":"nominal","scale":{"domain":["XDT","YDT","ZDT"],"range":["circle","square","triangle-up"]},"legend":{"title":null,"labelExpr":"'The error of ' + datum.label"}}},"layer":[
{"transform":[{"filter":"datum.s === 'XDT'"}],"mark":{"type":"point","filled":true,"opacity":1,"strokeWidth":0,"size":1100}},
{"transform":[{"filter":"datum.s === 'YDT'"}],"mark":{"type":"point","filled":true,"opacity":1,"strokeWidth":0,"size":841}},
{"transform":[{"filter":"datum.s === 'ZDT'"}],"mark":{"type":"point","filled":true,"opacity":1,"strokeWidth":0,"size":1600}}]},
{"data":{"values":[{"t":"(d)"}]},"mark":{"type":"text","align":"right","baseline":"alphabetic","dx":-34,"dy":-37,"font":"Liberation Serif","fontWeight":"bold","fontSize":84,"color":"black"},"encoding":{"x":{"value":"width"},"y":{"value":"height"},"text":{"field":"t"}}}
]}
],"spacing":41,"resolve":{"scale":{"x":"independent","y":"independent","color":"independent","shape":"independent","size":"independent","theta":"independent","radius":"independent"},"legend":{"color":"independent","shape":"independent","size":"independent"}}}
],"spacing":41,"resolve":{"scale":{"x":"independent","y":"independent","color":"independent","shape":"independent","size":"independent","theta":"independent","radius":"independent"},"legend":{"color":"independent","shape":"independent","size":"independent"}}},
{"hconcat":[
{"width":1826,"height":1186,"resolve":{"scale":{"size":"independent"}},"layer":[
{"data":{"values":[{"r":0.005},{"r":0.01},{"r":0.015}]},"mark":{"type":"point","shape":"circle","filled":false,"stroke":"#262626","strokeWidth":2.8,"strokeDash":[3,3.5],"opacity":1},"encoding":{"x":{"datum":0,"type":"quantitative","scale":{"domain":[-0.024764,0.053605],"nice":false,"zero":false},"axis":null},"y":{"datum":0,"type":"quantitative","scale":{"domain":[-0.024506,0.026395],"nice":false,"zero":false},"axis":null},"size":{"field":"r","type":"quantitative","scale":{"type":"pow","exponent":2,"domain":[0,0.02],"range":[0,868624],"nice":false,"zero":true},"legend":null}}},
{"data":{"values":[{"r":0.02}]},"mark":{"type":"point","shape":"circle","filled":false,"stroke":"black","strokeWidth":4,"opacity":1},"encoding":{"x":{"datum":0,"type":"quantitative","scale":{"domain":[-0.024764,0.053605],"nice":false,"zero":false},"axis":null},"y":{"datum":0,"type":"quantitative","scale":{"domain":[-0.024506,0.026395],"nice":false,"zero":false},"axis":null},"size":{"field":"r","type":"quantitative","scale":{"type":"pow","exponent":2,"domain":[0,0.02],"range":[0,868624],"nice":false,"zero":true},"legend":null}}},
{"data":{"values":[{"x":-0.02,"y":0,"x2":0.02,"y2":0},{"x":-0.017321,"y":-0.01,"x2":0.017321,"y2":0.01},{"x":-0.01,"y":-0.017321,"x2":0.01,"y2":0.017321},{"x":0,"y":-0.02,"x2":0,"y2":0.02},{"x":0.01,"y":-0.017321,"x2":-0.01,"y2":0.017321},{"x":0.017321,"y":-0.01,"x2":-0.017321,"y2":0.01}]},"mark":{"type":"rule","stroke":"#262626","strokeWidth":2.8,"strokeDash":[3,3.5]},"encoding":{"x":{"field":"x","type":"quantitative","scale":{"domain":[-0.024764,0.053605],"nice":false,"zero":false},"axis":null},"y":{"field":"y","type":"quantitative","scale":{"domain":[-0.024506,0.026395],"nice":false,"zero":false},"axis":null},"x2":{"field":"x2"},"y2":{"field":"y2"}}},
{"data":{"name":"angles"},"mark":{"type":"text","radius":513,"dx":-3,"dy":0,"align":"center","baseline":"middle","font":"Liberation Serif","fontWeight":"bold","fontSize":58,"color":"black"},"encoding":{"x":{"datum":0,"type":"quantitative","scale":{"domain":[-0.024764,0.053605],"nice":false,"zero":false},"axis":null},"y":{"datum":0,"type":"quantitative","scale":{"domain":[-0.024506,0.026395],"nice":false,"zero":false},"axis":null},"theta":{"field":"a","type":"quantitative","stack":null,"scale":{"type":"linear","domain":[0,360],"range":[1.5707963,-4.712389],"nice":false,"zero":false}},"text":{"field":"t"}}},
{"data":{"values":[{"r":0.005,"t":"0.005"},{"r":0.01,"t":"0.01"},{"r":0.015,"t":"0.015"},{"r":0.02,"t":"0.02"}]},"mark":{"type":"text","dx":34,"dy":-22,"align":"left","baseline":"alphabetic","font":"Liberation Serif","fontWeight":"bold","fontSize":58,"color":"black"},"encoding":{"x":{"datum":0,"type":"quantitative","scale":{"domain":[-0.024764,0.053605],"nice":false,"zero":false},"axis":null},"y":{"datum":0,"type":"quantitative","scale":{"domain":[-0.024506,0.026395],"nice":false,"zero":false},"axis":null},"theta":{"datum":82,"type":"quantitative","scale":{"type":"linear","domain":[0,360],"range":[1.5707963,-4.712389],"nice":false,"zero":false}},"radius":{"field":"r","type":"quantitative","scale":{"type":"linear","domain":[0,0.02],"range":[0,466],"nice":false,"zero":true}},"text":{"field":"t"}}},
{"data":{"name":"pe"},"encoding":{"x":{"field":"x","type":"quantitative","scale":{"domain":[-0.024764,0.053605],"nice":false,"zero":false},"axis":null},"y":{"field":"y","type":"quantitative","scale":{"domain":[-0.024506,0.026395],"nice":false,"zero":false},"axis":null},"color":{"field":"s","type":"nominal","scale":{"domain":["XDT","YDT","ZDT"],"range":["#0000ff","#ff0000","#000000"]},"legend":{"title":null,"labelExpr":"'The error of ' + datum.label"}},"shape":{"field":"s","type":"nominal","scale":{"domain":["XDT","YDT","ZDT"],"range":["circle","square","triangle-up"]},"legend":{"title":null,"labelExpr":"'The error of ' + datum.label"}}},"layer":[
{"transform":[{"filter":"datum.s === 'XDT'"}],"mark":{"type":"point","filled":true,"opacity":1,"strokeWidth":0,"size":1100}},
{"transform":[{"filter":"datum.s === 'YDT'"}],"mark":{"type":"point","filled":true,"opacity":1,"strokeWidth":0,"size":841}},
{"transform":[{"filter":"datum.s === 'ZDT'"}],"mark":{"type":"point","filled":true,"opacity":1,"strokeWidth":0,"size":1600}}]},
{"data":{"values":[{"t":"(e)"}]},"mark":{"type":"text","align":"right","baseline":"alphabetic","dx":-34,"dy":-37,"font":"Liberation Serif","fontWeight":"bold","fontSize":84,"color":"black"},"encoding":{"x":{"value":"width"},"y":{"value":"height"},"text":{"field":"t"}}}
]},
{"width":1826,"height":1186,"resolve":{"scale":{"size":"independent"}},"layer":[
{"data":{"values":[{"r":0.005},{"r":0.01},{"r":0.015}]},"mark":{"type":"point","shape":"circle","filled":false,"stroke":"#262626","strokeWidth":2.8,"strokeDash":[3,3.5],"opacity":1},"encoding":{"x":{"datum":0,"type":"quantitative","scale":{"domain":[-0.024764,0.053605],"nice":false,"zero":false},"axis":null},"y":{"datum":0,"type":"quantitative","scale":{"domain":[-0.024506,0.026395],"nice":false,"zero":false},"axis":null},"size":{"field":"r","type":"quantitative","scale":{"type":"pow","exponent":2,"domain":[0,0.02],"range":[0,868624],"nice":false,"zero":true},"legend":null}}},
{"data":{"values":[{"r":0.02}]},"mark":{"type":"point","shape":"circle","filled":false,"stroke":"black","strokeWidth":4,"opacity":1},"encoding":{"x":{"datum":0,"type":"quantitative","scale":{"domain":[-0.024764,0.053605],"nice":false,"zero":false},"axis":null},"y":{"datum":0,"type":"quantitative","scale":{"domain":[-0.024506,0.026395],"nice":false,"zero":false},"axis":null},"size":{"field":"r","type":"quantitative","scale":{"type":"pow","exponent":2,"domain":[0,0.02],"range":[0,868624],"nice":false,"zero":true},"legend":null}}},
{"data":{"values":[{"x":-0.02,"y":0,"x2":0.02,"y2":0},{"x":-0.017321,"y":-0.01,"x2":0.017321,"y2":0.01},{"x":-0.01,"y":-0.017321,"x2":0.01,"y2":0.017321},{"x":0,"y":-0.02,"x2":0,"y2":0.02},{"x":0.01,"y":-0.017321,"x2":-0.01,"y2":0.017321},{"x":0.017321,"y":-0.01,"x2":-0.017321,"y2":0.01}]},"mark":{"type":"rule","stroke":"#262626","strokeWidth":2.8,"strokeDash":[3,3.5]},"encoding":{"x":{"field":"x","type":"quantitative","scale":{"domain":[-0.024764,0.053605],"nice":false,"zero":false},"axis":null},"y":{"field":"y","type":"quantitative","scale":{"domain":[-0.024506,0.026395],"nice":false,"zero":false},"axis":null},"x2":{"field":"x2"},"y2":{"field":"y2"}}},
{"data":{"name":"angles"},"mark":{"type":"text","radius":513,"dx":-3,"dy":0,"align":"center","baseline":"middle","font":"Liberation Serif","fontWeight":"bold","fontSize":58,"color":"black"},"encoding":{"x":{"datum":0,"type":"quantitative","scale":{"domain":[-0.024764,0.053605],"nice":false,"zero":false},"axis":null},"y":{"datum":0,"type":"quantitative","scale":{"domain":[-0.024506,0.026395],"nice":false,"zero":false},"axis":null},"theta":{"field":"a","type":"quantitative","stack":null,"scale":{"type":"linear","domain":[0,360],"range":[1.5707963,-4.712389],"nice":false,"zero":false}},"text":{"field":"t"}}},
{"data":{"values":[{"r":0.005,"t":"0.005"},{"r":0.01,"t":"0.01"},{"r":0.015,"t":"0.015"},{"r":0.02,"t":"0.02"}]},"mark":{"type":"text","dx":34,"dy":-22,"align":"left","baseline":"alphabetic","font":"Liberation Serif","fontWeight":"bold","fontSize":58,"color":"black"},"encoding":{"x":{"datum":0,"type":"quantitative","scale":{"domain":[-0.024764,0.053605],"nice":false,"zero":false},"axis":null},"y":{"datum":0,"type":"quantitative","scale":{"domain":[-0.024506,0.026395],"nice":false,"zero":false},"axis":null},"theta":{"datum":82,"type":"quantitative","scale":{"type":"linear","domain":[0,360],"range":[1.5707963,-4.712389],"nice":false,"zero":false}},"radius":{"field":"r","type":"quantitative","scale":{"type":"linear","domain":[0,0.02],"range":[0,466],"nice":false,"zero":true}},"text":{"field":"t"}}},
{"data":{"name":"pf"},"encoding":{"x":{"field":"x","type":"quantitative","scale":{"domain":[-0.024764,0.053605],"nice":false,"zero":false},"axis":null},"y":{"field":"y","type":"quantitative","scale":{"domain":[-0.024506,0.026395],"nice":false,"zero":false},"axis":null},"color":{"field":"s","type":"nominal","scale":{"domain":["XDT","YDT","ZDT"],"range":["#0000ff","#ff0000","#000000"]},"legend":{"title":null,"labelExpr":"'The error of ' + datum.label"}},"shape":{"field":"s","type":"nominal","scale":{"domain":["XDT","YDT","ZDT"],"range":["circle","square","triangle-up"]},"legend":{"title":null,"labelExpr":"'The error of ' + datum.label"}}},"layer":[
{"transform":[{"filter":"datum.s === 'XDT'"}],"mark":{"type":"point","filled":true,"opacity":1,"strokeWidth":0,"size":1100}},
{"transform":[{"filter":"datum.s === 'YDT'"}],"mark":{"type":"point","filled":true,"opacity":1,"strokeWidth":0,"size":841}},
{"transform":[{"filter":"datum.s === 'ZDT'"}],"mark":{"type":"point","filled":true,"opacity":1,"strokeWidth":0,"size":1600}}]},
{"data":{"values":[{"t":"(f)"}]},"mark":{"type":"text","align":"right","baseline":"alphabetic","dx":-34,"dy":-37,"font":"Liberation Serif","fontWeight":"bold","fontSize":84,"color":"black"},"encoding":{"x":{"value":"width"},"y":{"value":"height"},"text":{"field":"t"}}}
]}
],"spacing":41,"resolve":{"scale":{"x":"independent","y":"independent","color":"independent","shape":"independent","size":"independent","theta":"independent","radius":"independent"},"legend":{"color":"independent","shape":"independent","size":"independent"}}}
],
"spacing":59,
"resolve":{"scale":{"x":"independent","y":"independent","color":"independent","shape":"independent","size":"independent","theta":"independent","radius":"independent"},"legend":{"color":"independent","shape":"independent","size":"independent"}},
"config":{
"background":"white",
"view":{"stroke":"black","strokeWidth":5,"fill":"white"},
"legend":{"orient":"none","legendX":1097,"legendY":79,"direction":"vertical","padding":20,"strokeColor":"black","strokeWidth":4,"fillColor":"white","labelFont":"Liberation Serif","labelFontWeight":"bold","labelFontSize":62,"labelColor":"black","labelLimit":0,"labelOffset":57,"symbolOffset":51,"symbolSize":1250,"rowPadding":14,"symbolStrokeWidth":0,"symbolOpacity":1}
}
}
